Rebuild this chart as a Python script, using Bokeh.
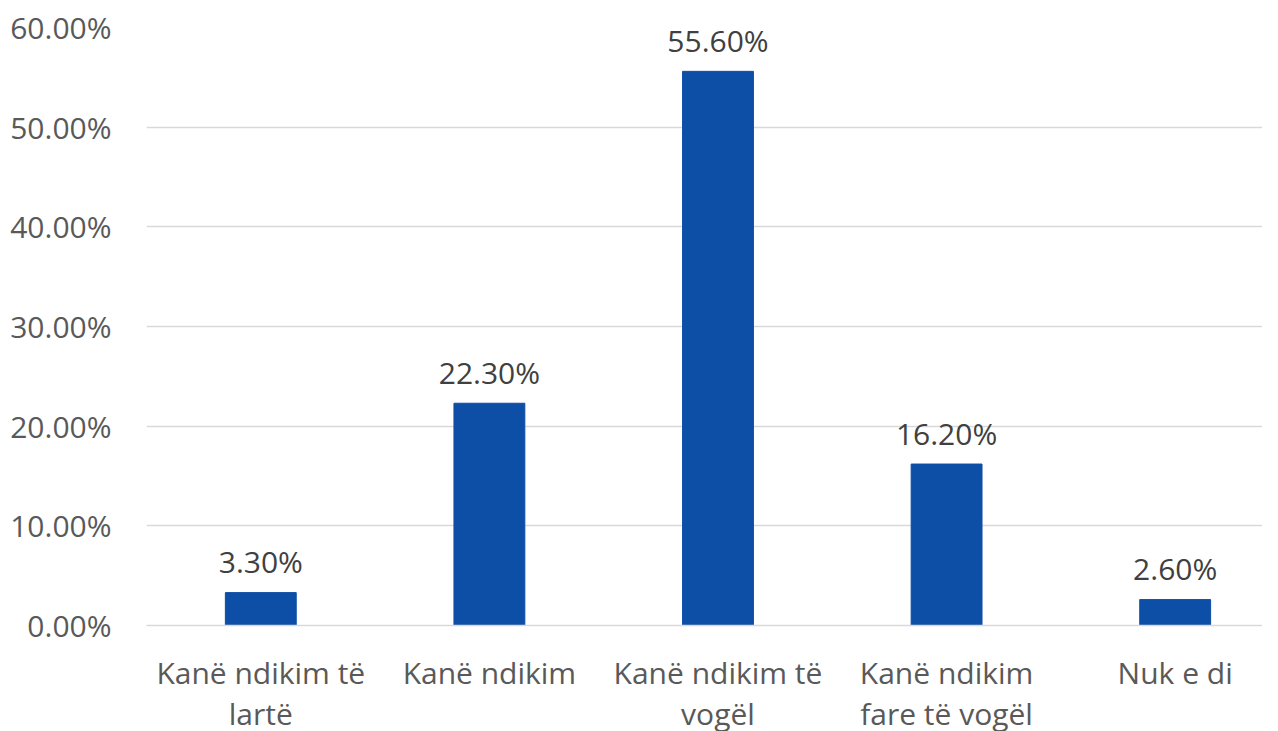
from bokeh.plotting import figure
from bokeh.models import ColumnDataSource, FixedTicker, NumeralTickFormatter, Range1d
from bokeh.core.properties import value
from bokeh.embed import file_html
from bokeh.resources import INLINE

categories = ["Kanë ndikim të\nlartë", "Kanë ndikim", "Kanë ndikim të\nvogël", "Kanë ndikim\nfare të vogël", "Nuk e di"]
shares = [0.033, 0.223, 0.556, 0.162, 0.026]
share_labels = ["3.30%", "22.30%", "55.60%", "16.20%", "2.60%"]
y_ticks = [0, 0.1, 0.2, 0.3, 0.4, 0.5, 0.6]

FONT = "Open Sans"
FS = "30px"
xs = list(range(len(categories)))
src = ColumnDataSource(dict(x=xs, top=shares, lab=share_labels))

p = figure(width=1262, height=750, output_backend="svg", toolbar_location=None,
           x_range=Range1d(-0.5, 4.382), y_range=Range1d(0, 0.6),
           min_border_left=146, min_border_right=0, min_border_top=27, min_border_bottom=125)
p.outline_line_color = None
p.background_fill_color = "white"
p.border_fill_color = "white"

p.vbar(x="x", top="top", width=0.31, source=src, color="#0D4EA6")
p.text(x="x", y="top", text="lab", source=src, text_align="center", text_baseline="alphabetic",
       y_offset=-31, text_font=value(FONT), text_font_size=FS, text_color="#404040")

p.yaxis.ticker = FixedTicker(ticks=y_ticks)
p.yaxis.formatter = NumeralTickFormatter(format="0.00%")
p.yaxis.axis_line_color = None
p.yaxis.major_tick_line_color = None
p.yaxis.minor_tick_line_color = None
p.yaxis.major_label_standoff = 29
p.yaxis.major_label_text_font = FONT
p.yaxis.major_label_text_font_size = FS
p.yaxis.major_label_text_color = "#595959"

p.xaxis.ticker = FixedTicker(ticks=xs)
p.xaxis.major_label_overrides = {i: c for i, c in zip(xs, categories)}
p.xaxis.axis_line_color = "#D9D9D9"
p.xaxis.axis_line_width = 1.5
p.xaxis.major_tick_line_color = None
p.xaxis.minor_tick_line_color = None
p.xaxis.major_label_standoff = 20
p.xaxis.major_label_text_font = FONT
p.xaxis.major_label_text_font_size = FS
p.xaxis.major_label_text_line_height = 1.0
p.xaxis.major_label_text_color = "#595959"

p.xgrid.grid_line_color = None
p.ygrid.ticker = FixedTicker(ticks=y_ticks)
p.ygrid.grid_line_color = "#D9D9D9"
p.ygrid.grid_line_width = 1.5

open("out.html", "w").write(file_html(p, INLINE))
